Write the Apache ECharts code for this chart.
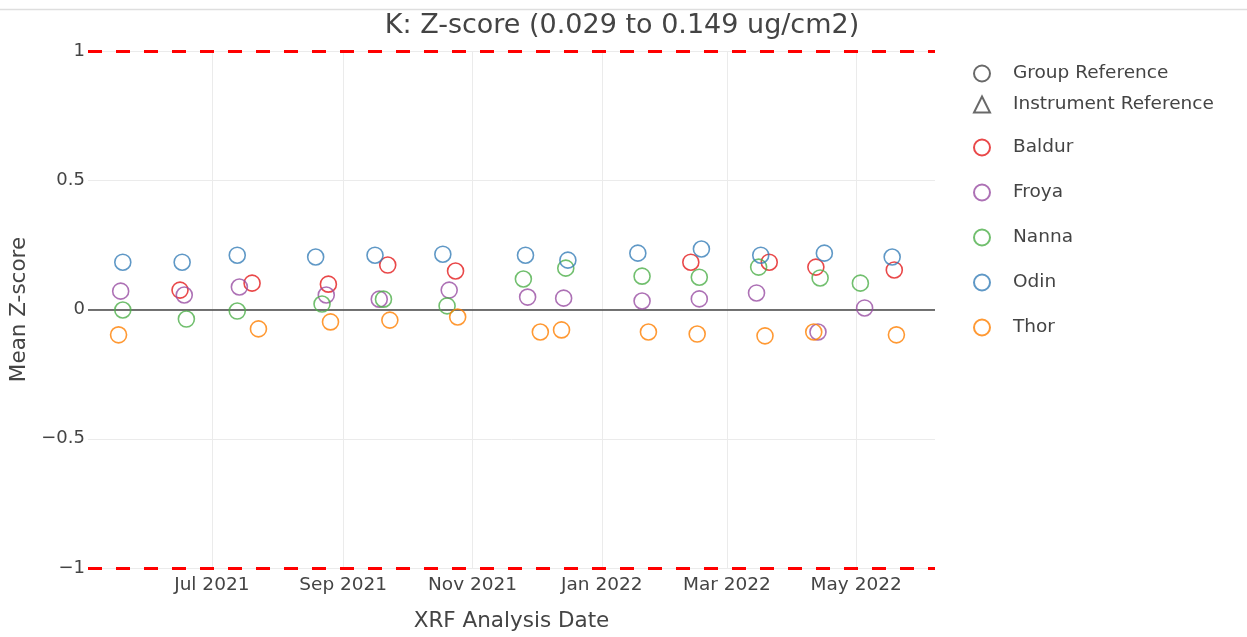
<!DOCTYPE html>
<html>
<head>
<meta charset="utf-8">
<title>K Z-score</title>
<script src="https://cdn.jsdelivr.net/npm/echarts@6/dist/echarts.min.js"></script>
<style>
  html, body { margin: 0; padding: 0; background: #fff; }
  #chart { width: 1247px; height: 637px; }
</style>
</head>
<body>
<div id="chart"></div>
<script>
// values
const baldurDates = ['2021-06-16','2021-07-20','2021-08-25','2021-09-22','2021-10-24','2022-02-12','2022-03-21','2022-04-12','2022-05-19']
const baldurZ = [0.075, 0.102, 0.098, 0.172, 0.149, 0.183, 0.183, 0.164, 0.153]

const froyaDates = ['2021-05-19','2021-06-18','2021-07-14','2021-08-24','2021-09-18','2021-10-21','2021-11-27','2021-12-14','2022-01-20','2022-02-16','2022-03-15','2022-04-13','2022-05-05']
const froyaZ = [0.071, 0.056, 0.087, 0.056, 0.040, 0.075, 0.048, 0.044, 0.033, 0.041, 0.064, -0.087, 0.006]

const nannaDates = ['2021-05-20','2021-06-19','2021-07-13','2021-08-22','2021-09-20','2021-10-20','2021-11-25','2021-12-15','2022-01-20','2022-02-16','2022-03-16','2022-04-14','2022-05-03']
const nannaZ = [-0.002, -0.037, -0.006, 0.021, 0.040, 0.014, 0.118, 0.160, 0.129, 0.125, 0.164, 0.122, 0.102]

const odinDates = ['2021-05-20','2021-06-17','2021-07-13','2021-08-19','2021-09-16','2021-10-18','2021-11-26','2021-12-16','2022-01-18','2022-02-17','2022-03-17','2022-04-16','2022-05-18']
const odinZ = [0.183, 0.183, 0.210, 0.203, 0.210, 0.214, 0.210, 0.191, 0.218, 0.234, 0.210, 0.218, 0.203]

const thorDates = ['2021-05-18','2021-07-23','2021-08-26','2021-09-23','2021-10-25','2021-12-03','2021-12-13','2022-01-23','2022-02-15','2022-03-19','2022-04-11','2022-05-20']
const thorZ = [-0.098, -0.075, -0.048, -0.041, -0.029, -0.087, -0.079, -0.087, -0.095, -0.102, -0.087, -0.098]

// x tick labels (first day of every second month)
const monthTicks = ['2021-07-01','2021-09-01','2021-11-01','2022-01-01','2022-03-01','2022-05-01']
const monthNames = ['Jan','Feb','Mar','Apr','May','Jun','Jul','Aug','Sep','Oct','Nov','Dec']

// limits drawn as red dashed lines
const limitLines = [1, -1]

const FONT = 'DejaVu Sans'
const TXT = '#444'

function toTime(s){
  const p = s.split('-')
  return new Date(+p[0], +p[1] - 1, +p[2]).getTime()
}

function pairs(dates, vals){
  return dates.map((d, i) => [toTime(d), vals[i]])
}

function instrument(name, color, dates, vals){
  return {
    name: name,
    type: 'scatter',
    symbol: 'circle',
    symbolSize: 16,
    z: 5,
    itemStyle: {
      color: 'rgba(0,0,0,0)',
      borderColor: color,
      borderWidth: 1.6,
      opacity: 0.8
    },
    data: pairs(dates, vals)
  }
}

let chart = echarts.init(document.getElementById('chart'))
chart.setOption({
  animation: false,
  backgroundColor: '#fff',
  title: {
    text: 'K: Z-score (0.029 to 0.149 ug/cm2)',
    left: 617,
    textAlign: 'center',
    top: 7,
    textStyle: { fontFamily: FONT, fontSize: 27, fontWeight: 'normal', color: TXT }
  },
  graphic: [
    {
      type: 'line',
      shape: { x1: 0, y1: 9.5, x2: 1247, y2: 9.5 },
      style: { stroke: '#dedede', lineWidth: 1.5 },
      silent: true
    }
  ],
  grid: { left: 88, right: 312, top: 51, bottom: 68 },
  legend: [
    {
      orient: 'vertical',
      left: 968,
      top: 59,
      itemWidth: 16,
      itemHeight: 16,
      itemGap: 12,
      selectedMode: false,
      textStyle: { fontFamily: FONT, fontSize: 18.5, color: TXT, padding: [0, 0, 0, 18] },
      data: [
        { name: 'Group Reference', icon: 'circle' },
        { name: 'Instrument Reference', icon: 'triangle' }
      ]
    },
    {
      orient: 'vertical',
      left: 968,
      top: 133,
      itemWidth: 16,
      itemHeight: 16,
      itemGap: 26,
      selectedMode: false,
      textStyle: { fontFamily: FONT, fontSize: 18.5, color: TXT, padding: [0, 0, 0, 18] },
      data: [
        { name: 'Baldur', icon: 'circle' },
        { name: 'Froya', icon: 'circle' },
        { name: 'Nanna', icon: 'circle' },
        { name: 'Odin', icon: 'circle' },
        { name: 'Thor', icon: 'circle' }
      ]
    }
  ],
  xAxis: {
    type: 'value',
    min: new Date(2021, 4, 3, 14).getTime(),
    max: new Date(2022, 5, 7, 5).getTime(),
    name: 'XRF Analysis Date',
    nameLocation: 'middle',
    nameGap: 42,
    nameTextStyle: { fontFamily: FONT, fontSize: 21.5, color: TXT },
    axisLine: { show: false, onZero: false },
    axisTick: { show: false },
    splitLine: { show: false },
    axisLabel: {
      customValues: monthTicks.map(toTime),
      margin: 8,
      fontFamily: FONT,
      fontSize: 18.5,
      color: TXT,
      formatter: v => {
        const d = new Date(v)
        return monthNames[d.getMonth()] + ' ' + d.getFullYear()
      }
    }
  },
  yAxis: {
    type: 'value',
    min: -1,
    max: 1,
    interval: 0.5,
    name: 'Mean Z-score',
    nameLocation: 'middle',
    nameGap: 54,
    nameTextStyle: { fontFamily: FONT, fontSize: 21.5, color: TXT },
    axisLine: { show: false },
    axisTick: { show: false },
    splitLine: { lineStyle: { color: '#ebebeb', width: 1 } },
    axisLabel: {
      margin: 3,
      fontFamily: FONT,
      fontSize: 18,
      color: TXT,
      formatter: v => (v < 0 ? '\u2212' + Math.abs(v) : String(v))
    }
  },
  series: [
    // vertical grid lines, zero line and limit lines
    {
      name: 'grid',
      type: 'scatter',
      data: [],
      z: 1,
      markLine: {
        silent: true,
        symbol: ['none', 'none'],
        label: { show: false },
        lineStyle: { color: '#ebebeb', width: 1, type: 'solid' },
        data: monthTicks.map(d => ({ xAxis: toTime(d) }))
      }
    },
    {
      name: 'zero',
      type: 'scatter',
      data: [],
      z: 2,
      markLine: {
        silent: true,
        symbol: ['none', 'none'],
        label: { show: false },
        lineStyle: { color: '#444', width: 1.5, type: 'solid' },
        data: [{ yAxis: 0 }]
      }
    },
    {
      name: 'limits',
      type: 'scatter',
      data: [],
      z: 3,
      markLine: {
        silent: true,
        symbol: ['none', 'none'],
        label: { show: false },
        lineStyle: { color: '#ff0000', width: 3, type: [14, 14] },
        data: limitLines.map(v => ({ yAxis: v }))
      }
    },
    {
      name: 'Group Reference',
      type: 'scatter',
      symbol: 'circle',
      itemStyle: { color: 'rgba(0,0,0,0)', borderColor: '#444', borderWidth: 1.6 },
      data: []
    },
    {
      name: 'Instrument Reference',
      type: 'scatter',
      symbol: 'triangle',
      itemStyle: { color: 'rgba(0,0,0,0)', borderColor: '#444', borderWidth: 1.6 },
      data: []
    },
    instrument('Baldur', '#e41a1c', baldurDates, baldurZ),
    instrument('Froya', '#984ea3', froyaDates, froyaZ),
    instrument('Nanna', '#4daf4a', nannaDates, nannaZ),
    instrument('Odin', '#377eb8', odinDates, odinZ),
    instrument('Thor', '#ff7f00', thorDates, thorZ)
  ]
})
</script>
</body>
</html>
